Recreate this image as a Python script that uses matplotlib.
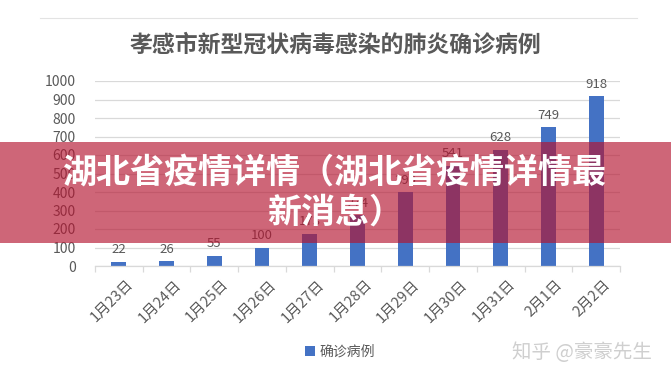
import matplotlib.pyplot as plt
from matplotlib.patches import Rectangle
from matplotlib.lines import Line2D
import numpy as np

plt.rcParams['font.family'] = ['Noto Sans CJK SC', 'DejaVu Sans']

dates = ["1月23日", "1月24日", "1月25日", "1月26日", "1月27日", "1月28日",
         "1月29日", "1月30日", "1月31日", "2月1日", "2月2日"]
cases = [22, 26, 55, 100, 173, 274, 399, 541, 628, 749, 918]
yticks = [0, 100, 200, 300, 400, 500, 600, 700, 800, 900, 1000]

title = "孝感市新型冠状病毒感染的肺炎确诊病例"
series_name = "确诊病例"
banner = "湖北省疫情详情（湖北省疫情详情最\n新消息）"
watermark = "知乎 @豪豪先生"

blue = "#4472C4"
gray = "#595959"
grid = "#D9D9D9"

fig = plt.figure(figsize=(6.71, 3.84), dpi=100)
ax = fig.add_axes([95/671, 1-266/384, 525/671, 185/384])

x = np.arange(len(dates))
bars = ax.bar(x, cases, width=0.31, color=blue, zorder=2, label=series_name)
for xi, v in zip(x, cases):
    ax.annotate(str(v), (xi, v), xytext=(0, 4), textcoords="offset points",
                ha="center", va="bottom", fontsize=9.5, color=gray)

ax.set_xlim(-0.5, len(dates) - 0.5)
ax.set_ylim(0, 1000)
ax.set_yticks(yticks)
ax.set_yticklabels([str(t) for t in yticks], fontsize=10, color=gray)
ax.yaxis.grid(True, color=grid, linewidth=0.9, zorder=0)
ax.tick_params(axis="y", length=0, pad=14)

ax.set_xticks(x + 0.15)
ax.set_xticklabels(dates, rotation=45, ha="right", rotation_mode="anchor",
                   fontsize=10.5, color=gray)
ax.tick_params(axis="x", length=0, pad=8)
ax.set_xticks(np.arange(-0.5, len(dates)), minor=True)
ax.tick_params(axis="x", which="minor", length=4, color=grid, width=0.9)

for s in ["top", "right", "left"]:
    ax.spines[s].set_visible(False)
ax.spines["bottom"].set_color(grid)
ax.spines["bottom"].set_linewidth(0.9)

fig.text(0.5, 1-45/384, title, ha="center", va="center", fontsize=16.5,
         color=gray, fontweight="bold")

fig.add_artist(Line2D([40/671, 637/671], [1-18/384, 1-18/384], color="#E3E3E3",
                      linewidth=0.8))

fig.legend(handles=[bars], labels=[series_name], loc="center",
           bbox_to_anchor=(340/671, 1-352/384), frameon=False, fontsize=10,
           handlelength=0.7, handleheight=0.7, handletextpad=0.3,
           labelcolor=gray)

fig.text(582/671, 1-352/384, watermark, ha="center", va="center",
         fontsize=14, color="#CFCFCF")

fig.add_artist(Rectangle((0, 1-243/384), 1, 101/384, transform=fig.transFigure,
                         facecolor=(181/255, 20/255, 48/255), alpha=0.65,
                         edgecolor="none", zorder=5))
fig.text(335/671, 1-192/384, banner, ha="center", va="center", fontsize=24.5,
         fontweight="bold", color="white", linespacing=1.2, zorder=6)

fig.savefig("out.png", dpi=100)
